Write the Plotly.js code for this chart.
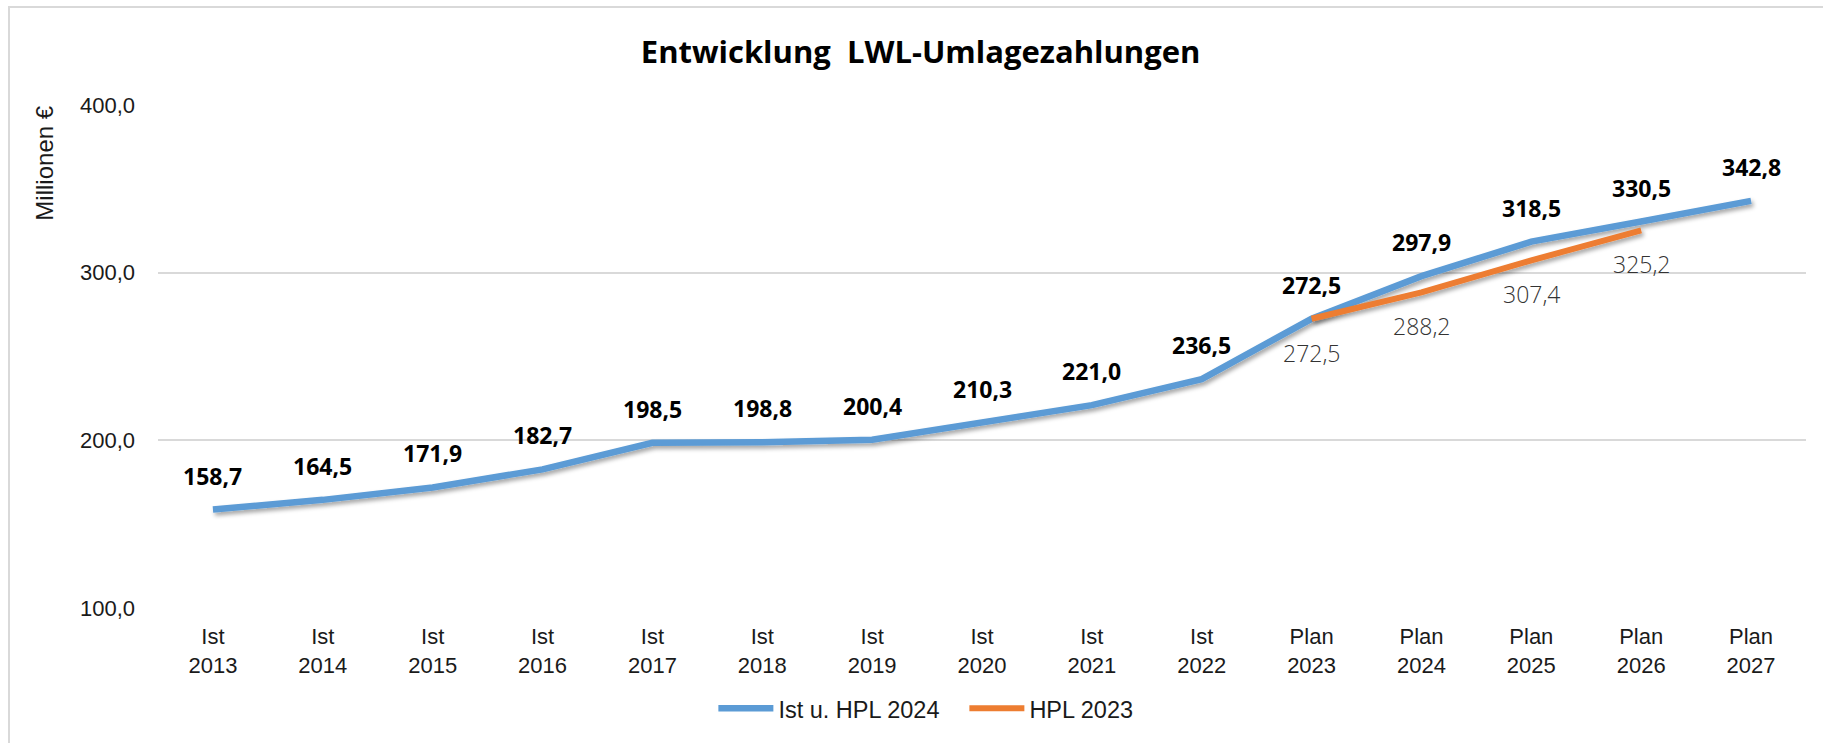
<!DOCTYPE html>
<html>
<head>
<meta charset="utf-8">
<script src="https://cdn.plot.ly/plotly-3.0.1.min.js"></script>
<style>
  html, body { margin: 0; padding: 0; background: #fff; overflow: hidden; }
  #wrap { position: relative; width: 1823px; height: 743px; }
  #chart { position: absolute; left: 0; top: 0; width: 1823px; height: 743px; }
  #frame { position: absolute; left: 8px; top: 6px; width: 1830px; height: 800px;
           border-left: 2px solid #d9d9d9; border-top: 2px solid #d9d9d9; pointer-events: none; }
</style>
</head>
<body>
<div id="wrap">
  <div id="chart"></div>
  <div id="frame"></div>
</div>
<script>
// ---- data ----
const categories = ["Ist<br>2013","Ist<br>2014","Ist<br>2015","Ist<br>2016","Ist<br>2017",
                    "Ist<br>2018","Ist<br>2019","Ist<br>2020","Ist<br>2021","Ist<br>2022",
                    "Plan<br>2023","Plan<br>2024","Plan<br>2025","Plan<br>2026","Plan<br>2027"];
const istHpl2024 = [158.7, 164.5, 171.9, 182.7, 198.5, 198.8, 200.4, 210.3, 221.0, 236.5,
                    272.5, 297.9, 318.5, 330.5, 342.8];
const hpl2023    = [null, null, null, null, null, null, null, null, null, null,
                    272.5, 288.2, 307.4, 325.2, null];
const seriesNames = ["Ist u. HPL 2024", "HPL 2023"];
const yTicks = [100, 200, 300, 400];

const fmt = v => v.toFixed(1).replace(".", ",");

const traces = [
  { x: categories, y: istHpl2024, name: seriesNames[0], type: "scatter", mode: "lines",
    line: { color: "#5B9BD5", width: 6.5 }, hoverinfo: "skip" },
  { x: categories, y: hpl2023, name: seriesNames[1], type: "scatter", mode: "lines",
    line: { color: "#ED7D31", width: 6 }, hoverinfo: "skip" }
];

const annotations = [];
categories.forEach((c, i) => {
  if (istHpl2024[i] != null) {
    annotations.push({ x: c, y: istHpl2024[i], xref: "x", yref: "y", text: fmt(istHpl2024[i]),
      showarrow: false, yshift: 34,
      font: { family: "Open Sans", size: 23, color: "#000", weight: 700 } });
  }
  if (hpl2023[i] != null) {
    annotations.push({ x: c, y: hpl2023[i], xref: "x", yref: "y", text: fmt(hpl2023[i]),
      showarrow: false, yshift: -34,
      font: { family: "Open Sans", size: 23, color: "#333", weight: 300 } });
  }
});
annotations.push({ xref: "paper", yref: "paper", x: -0.069, y: 0.884, text: "Millionen €",
  textangle: -90, showarrow: false, xanchor: "center", yanchor: "middle",
  font: { family: "Liberation Sans, Arial", size: 24, color: "#1a1a1a" } });

const layout = {
  width: 1823, height: 743,
  margin: { l: 158, r: 17, t: 105, b: 133 },
  paper_bgcolor: "rgba(0,0,0,0)", plot_bgcolor: "rgba(0,0,0,0)",
  separators: ",.",
  title: { text: "<b>Entwicklung  LWL-Umlagezahlungen</b>", x: 0.505, xanchor: "center",
           y: 0.93, yanchor: "middle", xref: "container", yref: "container",
           font: { family: "Open Sans", size: 31, color: "#000" } },
  xaxis: { type: "category", range: [-0.5, categories.length - 0.5], showgrid: false,
           zeroline: false, showline: false, ticks: "", ticklabelstandoff: 13,
           tickfont: { family: "Liberation Sans, Arial", size: 22, color: "#1a1a1a" } },
  yaxis: { range: [100, 400], tickvals: yTicks, tickformat: ".1f", showgrid: true,
           gridcolor: "#d9d9d9", gridwidth: 2, zeroline: false, showline: false, ticks: "",
           ticklabelstandoff: 22,
           tickfont: { family: "Liberation Sans, Arial", size: 22, color: "#1a1a1a" } },
  showlegend: true,
  legend: { orientation: "h", x: 0.337, xanchor: "left", y: -0.2, yanchor: "middle",
            font: { family: "Liberation Sans, Arial", size: 23.5, color: "#1a1a1a" },
            itemwidth: 55, entrywidth: 181, entrywidthmode: "pixels" },
  annotations: annotations
};

Plotly.newPlot("chart", traces, layout, { displayModeBar: false, staticPlot: true }).then(gd => {
  // soft shadow under the lines, as in the original
  const svg = gd.querySelector("svg.main-svg");
  const ns = "http://www.w3.org/2000/svg";
  let defs = svg.querySelector("defs");
  if (!defs) { defs = document.createElementNS(ns, "defs"); svg.insertBefore(defs, svg.firstChild); }
  const f = document.createElementNS(ns, "filter");
  f.setAttribute("id", "lineShadow");
  f.setAttribute("x", "-10%"); f.setAttribute("y", "-50%");
  f.setAttribute("width", "120%"); f.setAttribute("height", "200%");
  f.innerHTML = '<feDropShadow dx="2" dy="3" stdDeviation="2" flood-color="#000" flood-opacity="0.35"/>';
  defs.appendChild(f);
  gd.querySelectorAll(".scatterlayer .js-line").forEach(p => p.setAttribute("filter", "url(#lineShadow)"));
});
</script>
</body>
</html>
